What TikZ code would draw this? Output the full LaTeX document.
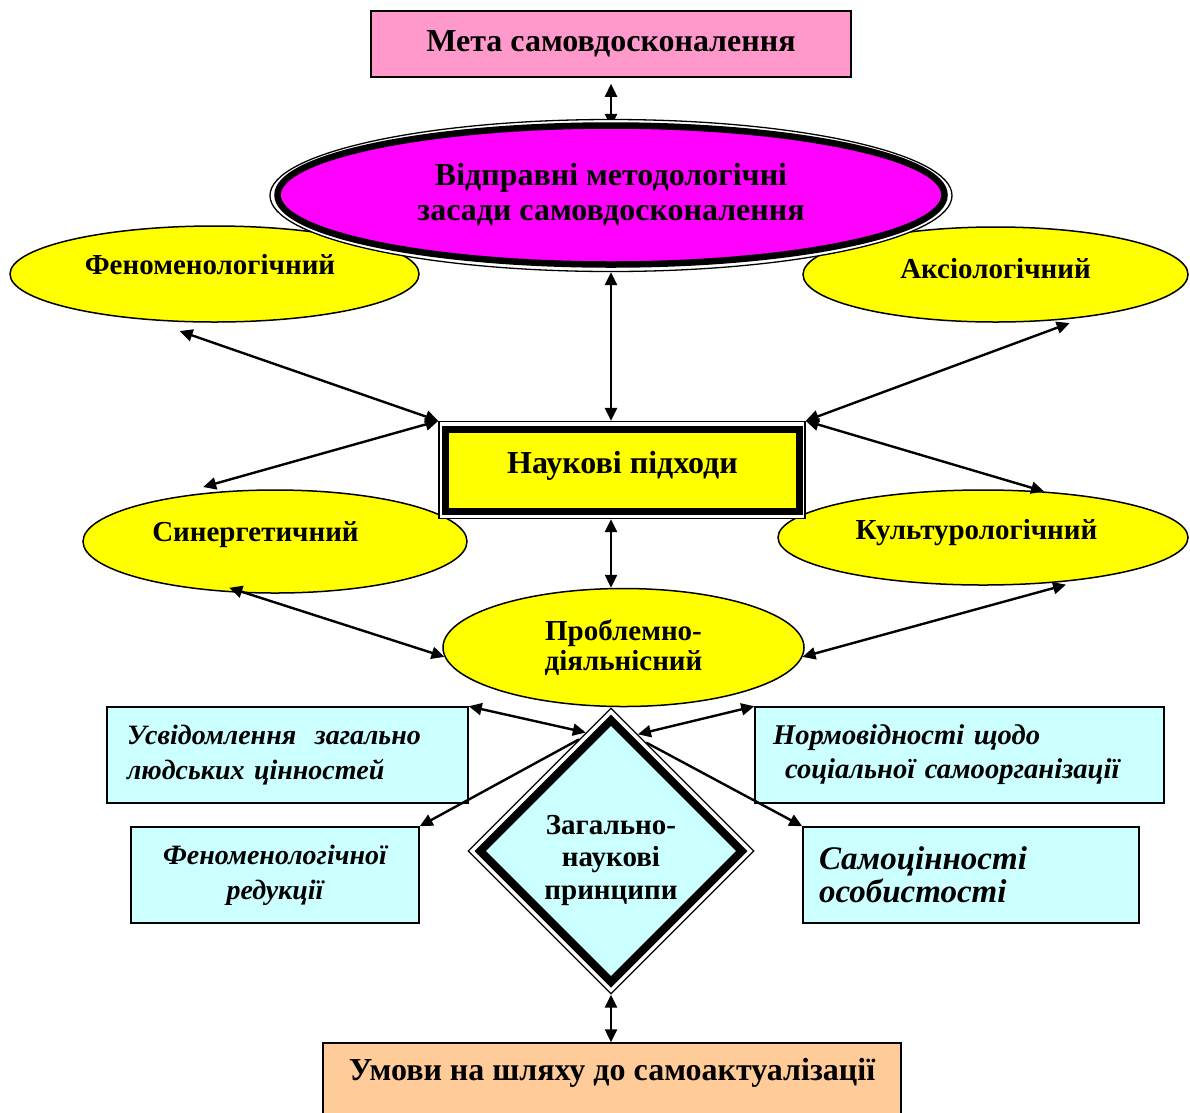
\documentclass[tikz,border=0pt]{standalone}
\usepackage{fontspec}
\setmainfont{Liberation Serif}
\usetikzlibrary{shapes.geometric,arrows.meta}

\definecolor{goalpink}{HTML}{FF99CC}
\definecolor{basemag}{HTML}{FF00FF}
\definecolor{approachyel}{HTML}{FFFF00}
\definecolor{princyan}{HTML}{CCFFFF}
\definecolor{condpeach}{HTML}{FFCC99}

\pgfdeclarelayer{back}
\pgfsetlayers{back,main}

\newcommand\largebold{\fontsize{32}{35}\selectfont\bfseries}
\newcommand\approachfont{\fontsize{29}{30}\selectfont\bfseries}

\tikzset{
  plainbox/.style={draw, line width=1.5pt, inner sep=0pt},
  approach/.style={ellipse, draw, line width=1.5pt, fill=approachyel,
    inner sep=0pt, font=\approachfont},
  outline/.style={draw, line width=1.3pt, fill=white, inner sep=0pt},
  conn/.style={line width=2.4pt, <->, >={Triangle[length=13pt,width=12pt]}},
  oneway/.style={line width=2.4pt, ->, >={Triangle[length=13pt,width=12pt]}},
  principle/.style={plainbox, fill=princyan, minimum height=96pt,
    font=\fontsize{28}{35}\selectfont\bfseries\itshape},
}

\begin{document}
\begin{tikzpicture}[x=1pt,y=-1pt]
\useasboundingbox (0,0) rectangle (1190,1112);
\begin{pgfonlayer}{back}
  \fill[white] (0,0) rectangle (1190,1112);
\end{pgfonlayer}

% goal
\node[plainbox, fill=goalpink, minimum width=480pt, minimum height=66pt,
  font=\largebold] (goal) at (611,44) {Мета самовдосконалення};

% scientific approaches (ellipses)
\node[approach, minimum width=409pt, minimum height=96pt,
  text height=0pt, text depth=0pt] (phen) at (214.5,274)
  {\hspace*{-9pt}Феноменологічний};
\node[approach, minimum width=385pt, minimum height=95pt,
  text height=0pt, text depth=0pt] (axi) at (995.5,274.5)
  {\raisebox{-4pt}{Аксіологічний}};
\node[approach, minimum width=384pt, minimum height=103pt,
  text height=0pt, text depth=0pt] (syn) at (275,541.5)
  {\hspace*{-39pt}Синергетичний};
\node[approach, minimum width=410pt, minimum height=95pt,
  text height=0pt, text depth=0pt] (cult) at (983,537.5)
  {\hspace*{-13pt}\raisebox{-2pt}{Культурологічний}};
\node[approach, minimum width=361pt, minimum height=118pt, align=center,
  font=\fontsize{29}{29.5}\selectfont\bfseries] (prob) at (623.5,647.5)
  {Проблемно-\\діяльнісний};

% methodological base: thin outer ring, thick inner border
\node[outline, ellipse, minimum width=682pt, minimum height=152pt]
  (baseframe) at (611,195.5) {};
\node[ellipse, draw, line width=6.5pt, fill=basemag, inner sep=0pt,
  minimum width=667pt, minimum height=139pt, align=center,
  font=\largebold] (base) at (611,195)
  {Відправні методологічні\\засади самовдосконалення};

% scientific approaches box
\node[outline, minimum width=366pt, minimum height=97pt]
  (sciframe) at (622,470) {};
\node[draw, line width=6.5pt, fill=approachyel, inner sep=0pt,
  minimum width=354pt, minimum height=82pt, text height=0pt, text depth=0pt,
  font=\largebold] (sci) at (622.5,470.5) {\raisebox{-3pt}{Наукові підходи}};

% general scientific principles
\node[outline, diamond, minimum width=286pt, minimum height=286pt]
  (prinframe) at (611,851) {};
\node[diamond, draw, line width=8pt, fill=princyan, inner sep=0pt,
  minimum width=265pt, minimum height=265pt] (prin) at (611,851) {};
\node[align=center, inner sep=0pt,
  font=\fontsize{29}{32.5}\selectfont\bfseries] (printext) at (611,860)
  {Загально-\\наукові\\принципи};

% principle boxes
\node[principle, minimum width=361pt, text width=321pt, align=left]
  (usv) at (287.5,755) {Усвідомлення\ \ загально\\людських цінностей};
\node[principle, minimum width=288pt, align=center]
  (fen2) at (275,875) {Феноменологічної\\редукції};
\node[principle, minimum width=409pt, text width=373pt, align=left,
  font=\fontsize{28.6}{34}\selectfont\bfseries\itshape]
  (norm) at (959.5,755)
  {Нормовідності щодо\\\hspace*{12pt}соціальної самоорганізації};
\node[principle, minimum width=336pt, text width=304pt, align=left,
  font=\fontsize{33}{33}\selectfont\bfseries\itshape]
  (self) at (971,875) {Самоцінності\\особистості};

% conditions
\node[plainbox, fill=condpeach, minimum width=578pt, minimum height=74pt,
  text height=0pt, text depth=0pt, font=\largebold] (cond) at (612,1080)
  {Умови на шляху до самоактуалізації};

% connectors
\begin{pgfonlayer}{back}
  \draw[conn] ([yshift=-8pt]baseframe.north) -- ([yshift=-6pt]goal.south);
\end{pgfonlayer}
\draw[conn] (baseframe.south) -- (baseframe.south |- sciframe.north);
\draw[conn] (sciframe.south -| baseframe.south) -- (prob.north -| baseframe.south);

\draw[conn] ([yshift=-9pt]phen.-126) -- (sciframe.north west);
\draw[conn] ([yshift=6pt]syn.146.5) -- (sciframe.north west);
\draw[conn] ([yshift=-4pt]axi.-31.7) -- (sciframe.north east);
\draw[conn] (cult.37.6) -- (sciframe.north east);
\draw[conn] ([yshift=4.5pt]syn.-132) -- (prob.183.4);
\draw[conn] ([yshift=-3pt]cult.-28) -- (prob.-3.4);

\draw[conn] (usv.north east) -- (prinframe.102.3);
\draw[oneway] (prinframe.106) -- (fen2.north east);
\draw[conn] (norm.north west) -- (prinframe.77.7);
\draw[oneway] (prinframe.72.5) -- (self.north west);
\draw[conn] (prinframe.south) -- (prinframe.south |- cond.north);
\end{tikzpicture}
\end{document}
